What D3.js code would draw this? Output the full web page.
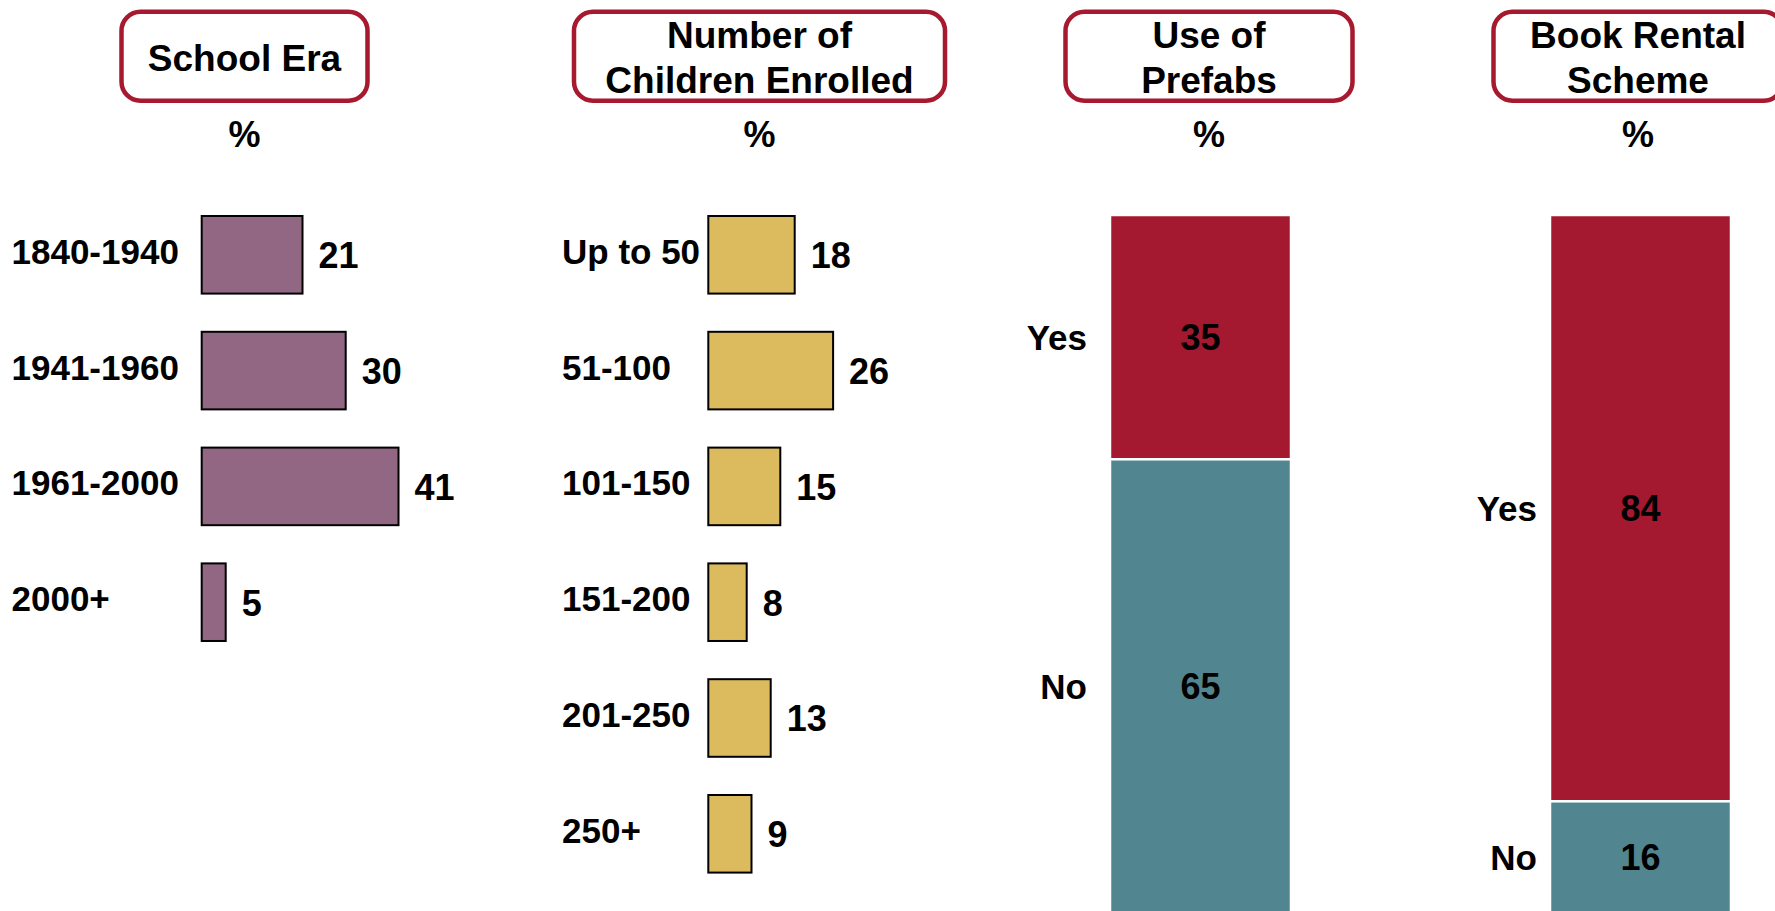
<!DOCTYPE html>
<html>
<head>
<meta charset="utf-8">
<script src="https://cdn.jsdelivr.net/npm/d3@7"></script>
<style>
  html, body { margin: 0; padding: 0; background: #fff; }
  svg { display: block; }
  text { font-family: "Liberation Sans", Arial, Helvetica, sans-serif; font-weight: bold; fill: #000; }
</style>
</head>
<body>
<svg id="chart" width="1775" height="911"></svg>
<script>
// ---- Data -------------------------------------------------------------
const eraCategories = ["1840-1940", "1941-1960", "1961-2000", "2000+"];
const eraValues = [21, 30, 41, 5];

const enrolCategories = ["Up to 50", "51-100", "101-150", "151-200", "201-250", "250+"];
const enrolValues = [18, 26, 15, 8, 13, 9];

const answerCategories = ["Yes", "No"];
const prefabValues = [35, 65];
const bookRentalValues = [84, 16];

const panelTitles = [
  ["School Era"],
  ["Number of", "Children Enrolled"],
  ["Use of", "Prefabs"],
  ["Book Rental", "Scheme"]
];
const unitLabel = "%";

// ---- Styles -----------------------------------------------------------
const frameRed = "#A6192E";
const eraFill = "#926784";
const enrolFill = "#DCBA5E";
const yesFill = "#A51930";
const noFill = "#518691";
const catSize = 35;
const valSize = 36;

const svg = d3.select("#chart");

// ---- Panel headers ----------------------------------------------------
const headers = [
  { cx: 244.5, x0: 121.5, x1: 367.5 },
  { cx: 759.5, x0: 574, x1: 945 },
  { cx: 1209, x0: 1065.5, x1: 1352.5 },
  { cx: 1638, x0: 1493.5, x1: 1782.5 }
];
headers.forEach((h, i) => {
  const g = svg.append("g");
  g.append("rect")
    .attr("x", h.x0).attr("y", 11.75)
    .attr("width", h.x1 - h.x0).attr("height", 89)
    .attr("rx", 19).attr("ry", 19)
    .attr("fill", "#fff")
    .attr("stroke", frameRed)
    .attr("stroke-width", 4.5);
  const lines = panelTitles[i];
  const baselines = lines.length === 1 ? [70.5] : [48, 92.5];
  lines.forEach((line, j) => {
    g.append("text")
      .attr("x", h.cx).attr("y", baselines[j])
      .attr("text-anchor", "middle")
      .attr("font-size", 37)
      .text(line);
  });
  g.append("text")
    .attr("x", h.cx).attr("y", 147)
    .attr("text-anchor", "middle")
    .attr("font-size", 36)
    .text(unitLabel);
});

// ---- Horizontal bar panels -------------------------------------------
const barStep = 115.8;
const barPad = 0.33;
const barTop = 216;
const x = d3.scaleLinear().domain([0, 100]).range([0, 480]);

function horizontalPanel(categories, values, fill, labelX, barX) {
  const n = categories.length;
  const y = d3.scaleBand()
    .domain(categories)
    .range([barTop, barTop + barStep * (n - barPad)])
    .paddingInner(barPad)
    .paddingOuter(0);

  const g = svg.append("g");
  const rows = categories.map((c, i) => ({ c, v: values[i] }));

  g.selectAll("rect")
    .data(rows)
    .join("rect")
    .attr("x", barX)
    .attr("y", d => y(d.c))
    .attr("width", d => x(d.v))
    .attr("height", y.bandwidth())
    .attr("fill", fill)
    .attr("stroke", "#000")
    .attr("stroke-width", 2);

  g.selectAll("text.cat")
    .data(rows)
    .join("text")
    .attr("class", "cat")
    .attr("x", labelX)
    .attr("y", d => y(d.c) + y.bandwidth() / 2 + 9)
    .attr("font-size", catSize)
    .text(d => d.c);

  g.selectAll("text.val")
    .data(rows)
    .join("text")
    .attr("class", "val")
    .attr("x", d => barX + x(d.v) + 16)
    .attr("y", d => y(d.c) + y.bandwidth() / 2 + 13.5)
    .attr("font-size", valSize)
    .text(d => d.v);
}

horizontalPanel(eraCategories, eraValues, eraFill, 11.5, 201.7);
horizontalPanel(enrolCategories, enrolValues, enrolFill, 562, 708.3);

// ---- Stacked 100% columns --------------------------------------------
const yStack = d3.scaleLinear().domain([0, 100]).range([215, 913]);
const stackColors = d3.scaleOrdinal().domain(answerCategories).range([yesFill, noFill]);

function stackedPanel(values, barX, barW, labelRight) {
  const g = svg.append("g");
  let acc = 0;
  const segs = answerCategories.map((c, i) => {
    const s = { c, v: values[i], y0: acc, y1: acc + values[i] };
    acc += values[i];
    return s;
  });

  g.selectAll("rect")
    .data(segs)
    .join("rect")
    .attr("x", barX)
    .attr("y", d => yStack(d.y0))
    .attr("width", barW)
    .attr("height", d => yStack(d.y1) - yStack(d.y0))
    .attr("fill", d => stackColors(d.c))
    .attr("stroke", "#fff")
    .attr("stroke-width", 2.5);

  g.selectAll("text.val")
    .data(segs)
    .join("text")
    .attr("class", "val")
    .attr("x", barX + barW / 2)
    .attr("y", d => (yStack(d.y0) + yStack(d.y1)) / 2 + 13)
    .attr("text-anchor", "middle")
    .attr("font-size", valSize)
    .text(d => d.v);

  g.selectAll("text.cat")
    .data(segs)
    .join("text")
    .attr("class", "cat")
    .attr("x", labelRight)
    .attr("y", d => (yStack(d.y0) + yStack(d.y1)) / 2 + 13)
    .attr("text-anchor", "end")
    .attr("font-size", catSize)
    .text(d => d.c);
}

stackedPanel(prefabValues, 1110, 181, 1087);
stackedPanel(bookRentalValues, 1550, 181, 1537);
</script>
</body>
</html>
